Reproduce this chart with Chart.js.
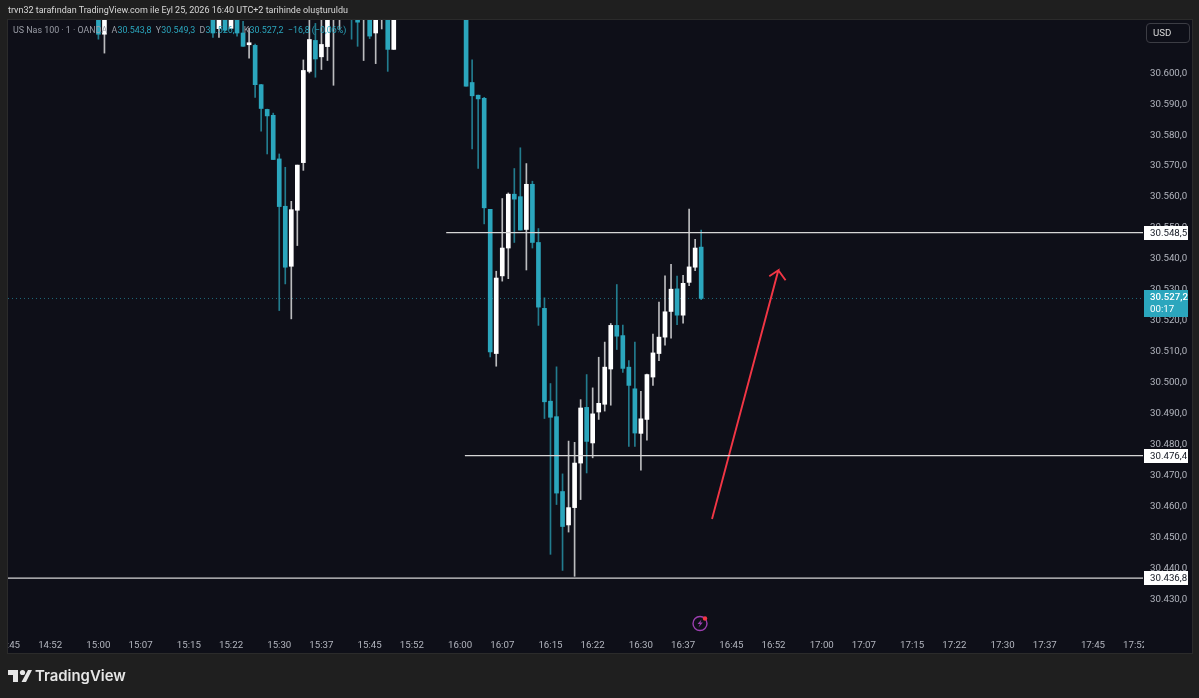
<!DOCTYPE html>
<html lang="tr">
<head>
<meta charset="utf-8">
<title>US Nas 100</title>
<script src="https://cdn.jsdelivr.net/npm/chart.js@4/dist/chart.umd.min.js"></script>
<style>
    html, body { margin: 0; padding: 0; width: 1199px; height: 698px; overflow: hidden; background: #1f1f1f; font-family: Roboto, sans-serif; }
    #panel { position: absolute; left: 7px; top: 19px; width: 1184px; height: 633px; background: #0e0f18; border: 1px solid #2b2b2b; box-sizing: content-box; }
    #chart { position: absolute; left: 0; top: 0; }
    .txt { position: absolute; white-space: nowrap; }
    #title { left: 8px; top: 3px; font-size: 9px; line-height: 15px; color: #d8d8d8; }
    #legend { left: 13px; top: 23px; font-size: 8.9px; line-height: 15px; color: #9a9da6; }
    #legend b { font-weight: 400; color: #2ba6bd; }
    #usd { left: 1146px; top: 23px; width: 42px; height: 18px; border: 1px solid #3c3d44; border-radius: 4px; font-size: 9.7px; line-height: 18px; color: #d8d8d8; text-indent: 6px; }
    #brand { left: 35px; top: 664px; font-family: Inter, sans-serif; font-size: 14.9px; font-weight: 600; line-height: 24px; color: #e6e6e6; }
    #logo { position: absolute; left: 8px; top: 669px; }
    #bolt { position: absolute; left: 692px; top: 614px; }
</style>
</head>
<body>
<div id="panel"></div>
<canvas id="chart" width="1199" height="698"></canvas>
<div class="txt" id="title">trvn32 tarafından TradingView.com ile Eyl 25, 2026 16:40 UTC+2 tarihinde oluşturuldu</div>
<div class="txt" id="legend">US Nas 100 · 1 · OANDA&nbsp; A<b>30.543,8</b>&nbsp; Y<b>30.549,3</b>&nbsp; D<b>30.526,8</b>&nbsp; K<b>30.527,2</b>&nbsp; <b>−16,8 (−0,06%)</b></div>
<div class="txt" id="usd">USD</div>
<svg id="bolt" width="18" height="18" viewBox="0 0 18 18">
    <circle cx="8" cy="9.5" r="7" fill="none" stroke="#9c3fb0" stroke-width="1.4"/>
    <path d="M9.5 5.5 L5.5 10 H8 L6.5 13.5 L10.8 8.6 H8.4 Z" fill="#9c3fb0"/>
    <circle cx="13" cy="4.5" r="2.2" fill="#f23645"/>
</svg>
<svg id="logo" width="24" height="14" viewBox="0 0 24 14">
    <path d="M0 1 H10 V13 H5 V6 H0 Z M20 1 H24 L18 13 H13.5 Z" fill="#e6e6e6"/>
    <circle cx="14.5" cy="3.5" r="2.6" fill="#e6e6e6"/>
</svg>
<div class="txt" id="brand">TradingView</div>

<script>
// minutes relative to 16:00, one candle per minute
const candleMinutes = [-60, -59, -41, -40, -39, -38, -37, -36, -35, -34, -33, -32, -31, -30, -29, -28, -27, -26, -25, -24, -23, -22, -21, -20, -18, -17, -16, -15, -14, -13, -12, -11,
    1, 2, 3, 4, 5, 6, 7, 8, 9, 10, 11, 12, 13, 14, 15, 16, 17, 18, 19, 20, 21, 22, 23, 24, 25, 26, 27, 28, 29, 30, 31, 32, 33, 34, 35, 36, 37, 38, 39, 40];
const opens = [30626.5, 30612.6, 30620.0, 30614.4, 30621.7, 30614.5, 30621.7, 30613.0, 30609.2, 30609.0, 30596.3, 30588.3, 30586.4, 30572.3, 30557.0, 30537.6, 30555.7, 30571.1, 30600.6, 30610.6, 30605.3, 30608.6, 30620.0, 30620.0, 30628.0, 30626.0, 30620.0, 30626.0, 30613.0, 30618.0, 30626.0, 30607.7,
    30628.0, 30597.0, 30592.9, 30591.9, 30556.0, 30509.4, 30534.5, 30543.5, 30560.9, 30560.1, 30549.5, 30564.1, 30545.3, 30524.0, 30494.0, 30489.0, 30464.8, 30454.0, 30459.6, 30474.0, 30492.0, 30480.5, 30490.5, 30493.0, 30504.4, 30518.5, 30515.2, 30505.0, 30498.0, 30483.6, 30488.1, 30501.8, 30509.4, 30514.7, 30523.0, 30530.3, 30521.8, 30532.4, 30537.3, 30543.8];
const highs = [30630.0, 30630.0, 30625.0, 30622.0, 30623.0, 30624.0, 30623.0, 30616.8, 30614.6, 30609.4, 30596.4, 30588.4, 30587.1, 30573.9, 30569.6, 30558.6, 30570.3, 30604.3, 30620.0, 30616.1, 30622.0, 30625.0, 30628.0, 30628.0, 30630.0, 30628.0, 30628.0, 30628.0, 30628.0, 30626.0, 30628.0, 30628.0,
    30630.0, 30604.3, 30592.9, 30592.2, 30556.0, 30536.0, 30559.5, 30561.3, 30569.2, 30575.9, 30570.8, 30565.1, 30549.8, 30527.4, 30499.7, 30505.1, 30470.5, 30481.1, 30480.7, 30494.5, 30502.6, 30498.3, 30508.2, 30513.1, 30519.1, 30531.7, 30518.6, 30507.1, 30513.1, 30497.2, 30502.8, 30515.7, 30526.0, 30534.5, 30538.2, 30534.4, 30534.7, 30556.1, 30546.3, 30549.3];
const lows = [30611.0, 30606.5, 30611.6, 30611.6, 30613.6, 30614.5, 30612.0, 30608.7, 30604.9, 30592.2, 30581.3, 30573.9, 30572.1, 30523.3, 30531.9, 30520.6, 30544.3, 30568.6, 30600.1, 30598.7, 30601.2, 30604.1, 30596.1, 30614.2, 30611.0, 30608.7, 30604.1, 30611.2, 30603.1, 30614.3, 30600.6, 30607.7,
    30595.8, 30575.5, 30569.2, 30551.3, 30508.3, 30505.3, 30532.8, 30533.6, 30545.3, 30549.3, 30536.4, 30543.5, 30518.5, 30488.4, 30444.5, 30460.6, 30439.3, 30451.7, 30437.4, 30462.2, 30470.8, 30475.7, 30488.1, 30490.8, 30492.7, 30510.7, 30503.3, 30479.4, 30479.4, 30471.7, 30481.4, 30499.1, 30507.1, 30512.1, 30514.4, 30518.7, 30519.2, 30531.3, 30536.2, 30526.8];
const closes = [30612.6, 30626.5, 30613.0, 30619.4, 30613.9, 30621.7, 30613.0, 30608.7, 30609.4, 30596.3, 30588.6, 30586.2, 30572.1, 30556.9, 30537.3, 30555.9, 30570.3, 30600.9, 30610.9, 30604.6, 30609.3, 30620.0, 30625.0, 30624.0, 30622.0, 30616.5, 30626.0, 30612.0, 30625.0, 30624.0, 30607.7, 30626.0,
    30595.8, 30592.7, 30591.7, 30556.5, 30509.9, 30533.8, 30543.5, 30560.9, 30559.3, 30549.3, 30564.1, 30545.3, 30524.4, 30493.8, 30488.8, 30464.3, 30453.5, 30459.6, 30474.0, 30491.8, 30481.0, 30489.9, 30493.3, 30505.0, 30518.5, 30515.0, 30504.6, 30499.1, 30483.7, 30488.3, 30502.6, 30509.6, 30514.7, 30522.9, 30530.2, 30521.8, 30532.1, 30537.4, 30543.5, 30527.2];

const priceTicks = [30600, 30590, 30580, 30570, 30560, 30550, 30540, 30530, 30520, 30510, 30500, 30490, 30480, 30470, 30460, 30450, 30440, 30430];
const timeTicks = [-75, -68, -60, -53, -45, -38, -30, -23, -15, -8, 0, 7, 15, 22, 30, 37, 45, 52, 60, 67, 75, 82, 90, 97, 105, 112];
const timeLabels = ['14:45', '14:52', '15:00', '15:07', '15:15', '15:22', '15:30', '15:37', '15:45', '15:52', '16:00', '16:07', '16:15', '16:22', '16:30', '16:37', '16:45', '16:52', '17:00', '17:07', '17:15', '17:22', '17:30', '17:37', '17:45', '17:52'];

const levelUpper = { from: -2.3, price: 30548.5 };
const levelMiddle = { from: 0.8, price: 30476.4 };
const levelLower = { from: -75, price: 30436.8 };
const lastPrice = 30527.2;
const countdown = '00:17';
const arrowMinutes = [41.8, 52.8, 51.3, 52.8, 54.0];
const arrowPrices = [30455.9, 30536.3, 30534.4, 30536.3, 30533.1];

const minX = -75, maxX = 113.3, minY = 30419.4, maxY = 30617.2;

const TEAL = '#2ba6bd';
const WHITE = '#ffffff';
const isUp = candleMinutes.map((m, i) => closes[i] >= opens[i]);
const formatPrice = (v) => {
    const [a, b] = v.toFixed(1).split('.');
    return a.slice(0, 2) + '.' + a.slice(2) + ',' + b;
};
const levelLine = (l, color) => ({
    type: 'line',
    data: [{ x: l.from, y: l.price }, { x: maxX, y: l.price }],
    borderColor: color,
    borderWidth: 1.3,
    pointRadius: 0,
    order: 0,
});

// price badges on the axis, mask for the clipped time labels
const overlayPlugin = {
    id: 'overlay',
    afterDraw(chart) {
        const { ctx, scales } = chart;
        const y = scales.y;
        ctx.save();
        ctx.fillStyle = '#1f1f1f';
        ctx.fillRect(0, 632, 7, 22);
        ctx.fillStyle = '#2b2b2b';
        ctx.fillRect(7, 632, 1, 21);
        ctx.fillStyle = '#0e0f18';
        ctx.fillRect(1144, 633, 46, 19);
        ctx.textBaseline = 'middle';
        ctx.textAlign = 'left';
        ctx.font = '9.7px Roboto, sans-serif';
        [levelUpper, levelMiddle, levelLower].forEach((l) => {
            const py = y.getPixelForValue(l.price);
            ctx.fillStyle = '#ffffff';
            ctx.fillRect(1144, Math.round(py) - 7, 44, 14);
            ctx.fillStyle = '#131722';
            ctx.fillText(formatPrice(l.price), 1150, Math.round(py) + 0.5);
        });
        const py = Math.round(y.getPixelForValue(lastPrice));
        ctx.fillStyle = TEAL;
        ctx.fillRect(1144, py - 8, 44, 27);
        ctx.fillStyle = '#ffffff';
        ctx.font = '500 9.7px Roboto, sans-serif';
        ctx.fillText(formatPrice(lastPrice), 1150, py);
        ctx.font = '9.7px Roboto, sans-serif';
        ctx.fillText(countdown, 1150, py + 12);
        ctx.restore();
    },
};

new Chart(document.getElementById('chart'), {
    type: 'bar',
    data: {
        datasets: [
            {
                type: 'line',
                data: [{ x: minX, y: lastPrice }, { x: maxX, y: lastPrice }],
                borderColor: 'rgba(43,166,189,0.6)',
                borderWidth: 1,
                borderDash: [1, 3],
                pointRadius: 0,
                order: 5,
            },
            {
                data: candleMinutes.map((m, i) => ({ x: m, y: [lows[i], highs[i]] })),
                backgroundColor: isUp.map((u) => (u ? 'rgba(255,255,255,0.72)' : 'rgba(43,166,189,0.72)')),
                barThickness: 1,
                grouped: false,
                order: 4,
            },
            {
                data: candleMinutes.map((m, i) => ({ x: m, y: [opens[i], closes[i]] })),
                backgroundColor: isUp.map((u) => (u ? WHITE : TEAL)),
                barThickness: 4,
                minBarLength: 2,
                grouped: false,
                order: 3,
            },
            levelLine(levelUpper, '#d6d6d6'),
            levelLine(levelMiddle, '#d6d6d6'),
            levelLine(levelLower, '#d6d6d6'),
            {
                type: 'line',
                data: arrowMinutes.map((m, i) => ({ x: m, y: arrowPrices[i] })),
                borderColor: '#f23645',
                borderWidth: 1.9,
                pointRadius: 0,
                order: 0,
            },
        ],
    },
    options: {
        responsive: false,
        animation: false,
        events: [],
        layout: {
            autoPadding: false,
            padding: { left: 8, top: 20, right: 8, bottom: 46 },
        },
        plugins: { legend: { display: false }, tooltip: { enabled: false } },
        scales: {
            x: {
                type: 'linear',
                offset: false,
                min: minX,
                max: maxX,
                grid: { display: false, drawTicks: false },
                border: { display: false },
                afterBuildTicks: (s) => { s.ticks = timeTicks.map((v) => ({ value: v })); },
                afterFit: (s) => { s.height = 20; s.paddingLeft = 0; s.paddingRight = 0; },
                ticks: {
                    autoSkip: false,
                    maxRotation: 0,
                    padding: 8,
                    color: '#b2b5be',
                    font: { family: 'Roboto, sans-serif', size: 9.7 },
                    callback: (v) => timeLabels[timeTicks.indexOf(v)],
                },
            },
            y: {
                type: 'linear',
                position: 'right',
                min: minY,
                max: maxY,
                grid: { display: false, drawTicks: false },
                border: { display: false },
                afterBuildTicks: (s) => { s.ticks = priceTicks.map((v) => ({ value: v })); },
                afterFit: (s) => { s.width = 48; },
                ticks: {
                    autoSkip: false,
                    padding: 7,
                    color: '#b2b5be',
                    font: { family: 'Roboto, sans-serif', size: 9.7 },
                    callback: (v) => formatPrice(v),
                },
            },
        },
    },
    plugins: [overlayPlugin],
});
</script>
</body>
</html>
